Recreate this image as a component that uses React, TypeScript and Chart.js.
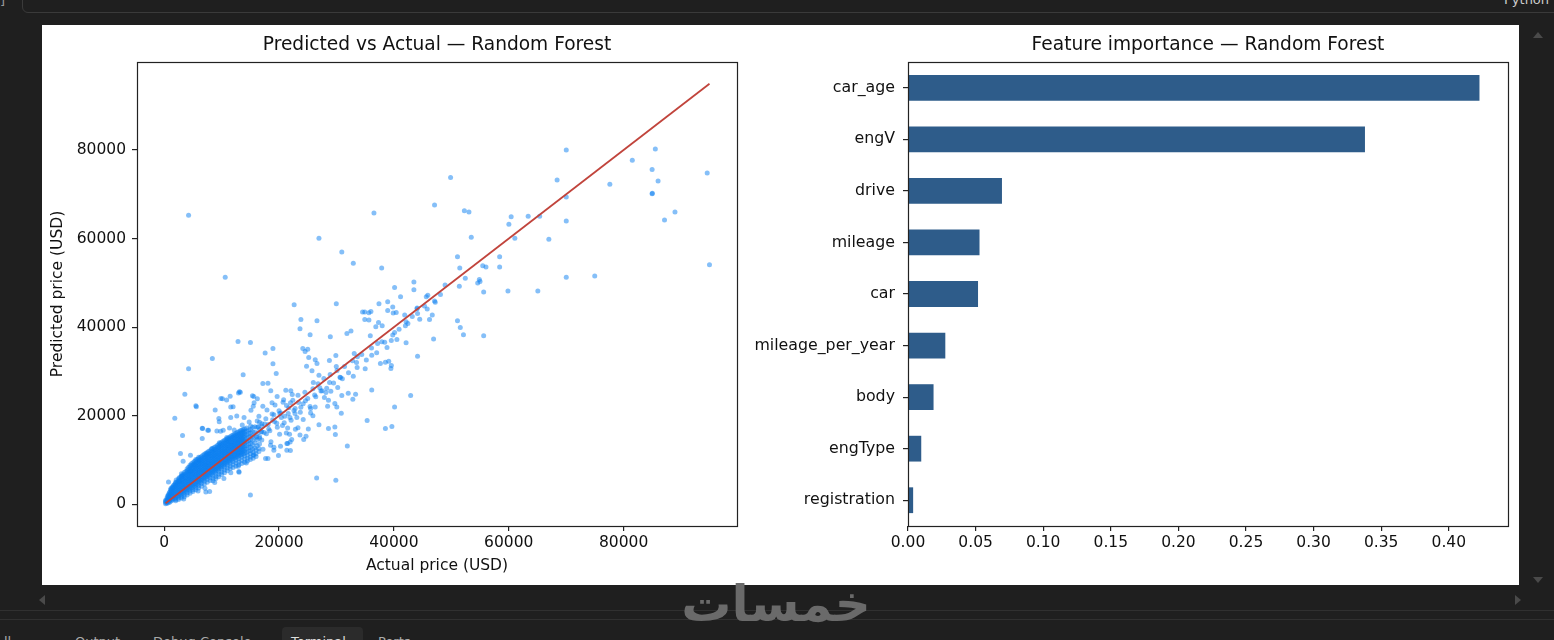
import React, { useEffect, useRef } from 'react';
import Chart from 'chart.js/auto';

const FONT = '"DejaVu Sans", Verdana, sans-serif';
const TEXT = '#111111';
const FRAME = '#222222';

// ---- Predicted vs Actual (Random Forest) ----
// outliers and the looser part of the cloud, [actual, predicted] in USD
const sparsePoints: [number, number][] = [
  [4250, 65240], [10630, 51230], [26950, 60050], [30930, 56950], [32930, 54400], [36530, 65770], [37870, 53340],
  [22630, 45040], [29970, 45270], [40120, 48970], [43480, 50170], [43480, 48430], [41160, 46850], [38920, 45720],
  [37400, 45270], [39800, 44520], [38920, 43770], [39880, 43170], [34540, 43390], [35650, 43240], [44040, 44300],
  [45320, 44750], [45640, 46850], [45900, 47200], [47080, 45880], [48110, 47390], [48910, 49490], [47080, 67570],
  [49870, 73750], [51070, 55900], [51470, 53340], [51390, 49200], [52430, 51010], [52270, 66290], [53070, 65990],
  [53470, 60270], [55470, 53860], [56030, 53560], [54880, 50740], [54590, 49950], [55000, 50300], [55630, 47910],
  [58410, 55900], [58410, 53560], [59860, 48140], [60020, 63210], [60420, 64940], [61060, 60050], [63380, 65010],
  [65380, 65010], [65060, 48140], [66980, 59820], [68420, 73220], [70010, 80000], [70010, 69380], [70010, 63960],
  [70010, 51230], [74970, 51530], [77600, 72230], [81510, 77670], [84960, 75560], [84960, 70130], [85000, 70200],
  [85520, 80230], [86000, 73000], [87120, 64180], [88940, 65990], [94550, 74810], [94950, 54090],
  [23810, 41740], [26610, 41430], [23650, 39620], [25410, 38260], [28930, 37810], [31820, 38580], [32530, 39100],
  [34930, 41740], [35650, 41580], [34930, 43390], [36000, 43500], [37320, 41060], [36850, 40070], [37960, 40300],
  [35890, 38040], [37160, 36320], [38400, 36610], [39550, 37000], [40520, 37220], [40120, 38800], [42120, 41200],
  [42440, 40840], [41880, 42710], [40400, 43300], [42120, 36450], [44040, 44140], [44120, 43100], [46200, 41740],
  [46680, 42710], [46910, 37290], [44120, 33450], [51070, 41430], [51560, 39930], [52110, 38260], [55630, 38040],
  [42920, 24560], [40120, 21990], [39650, 17560], [38520, 17100], [35340, 18920], [36140, 25830], [38520, 32090],
  [39100, 32320], [39560, 31340], [39480, 30670], [37650, 31800], [36140, 33670], [35000, 30580], [33490, 32020],
  [33090, 34050], [33650, 33290], [32930, 28930], [33330, 24860], [32850, 23730], [32050, 25090], [30840, 20570],
  [30060, 21990], [29720, 17470], [29810, 15750], [28610, 17100], [31890, 13180], [26950, 17930], [26550, 5950],
  [29890, 5420], [15020, 2100], [21980, 12130], [19900, 11010], [18070, 10330], [22850, 16950], [23300, 17300],
  [24210, 19140], [25500, 20630], [25900, 20000], [26300, 21990], [28460, 22150], [28610, 23500], [29720, 22760],
  [27500, 25610], [28160, 25240], [29020, 25540], [30220, 26370], [30930, 24560], [30610, 28700], [31020, 28320],
  [29970, 31120], [28770, 32480], [29890, 33610], [24540, 34510], [25170, 33150], [24790, 31190], [24140, 35190],
  [25000, 35000], [26300, 32610], [26610, 31800], [25740, 30130], [26950, 29150], [25970, 27500], [18940, 35190],
  [17580, 34130], [18940, 31710], [19510, 29540], [18070, 27350], [17180, 27280], [12860, 36770], [15020, 36540],
  [8390, 32930], [13750, 29220], [4250, 30580], [3600, 24860], [1850, 19440], [3200, 15530], [5520, 22220],
  [5600, 22000], [10150, 23800], [10880, 23570], [8880, 21310], [6630, 17180], [7590, 16720], [6630, 14850],
  [9830, 16500], [9520, 19370], [11590, 19590], [12640, 19960], [13910, 19590], [11590, 21990], [12000, 22000],
  [13260, 25310], [13100, 25400], [15600, 24330], [16220, 23800], [15510, 22150], [15110, 21240], [17180, 22150],
  [18560, 25610], [19670, 24330], [18780, 22900], [20700, 23050], [21180, 25760], [22050, 25610], [20140, 20500],
  [21900, 19590], [22780, 20500], [21830, 15820], [21270, 16110], [23650, 15660], [24700, 15370], [25100, 17020],
  [24300, 14620], [19110, 12880], [22210, 14620], [21500, 13720], [13040, 7230], [7920, 2870],
  [9880, 23880], [11490, 24400], [12940, 25150], [15370, 24480], [15660, 22900], [9590, 18610], [6690, 17100],
  [7730, 16720], [9180, 16570], [10280, 16720], [11380, 17250], [2840, 11450], [4580, 11070], [3300, 9720],
  [750, 5050], [6910, 7010], [13000, 7390], [17650, 10330], [21360, 12200], [21940, 14090], [21360, 13710],
  [18520, 13320], [19100, 12200], [20260, 13110], [7260, 2780],
];

// solid core of the cloud, thousands of USD: actual -> predicted values stacked there
const coreColumnsK: [number, number[]][] = [
  [0.25, [0.1, 0.4, 0.7, 0.9]],
  [0.5, [0.25, 0.55, 0.85, 1.15, 1.45]],
  [0.75, [0.35, 0.75, 1.15, 1.55, 1.95, 2.2]],
  [1.0, [0.5, 0.95, 1.4, 1.85, 2.3, 2.75]],
  [1.25, [0.8, 1.25, 1.7, 2.15, 2.6, 3.05, 3.35]],
  [1.5, [1.0, 1.5, 2.0, 2.5, 3.0, 3.5, 3.9]],
  [1.75, [1.3, 1.8, 2.3, 2.8, 3.3, 3.8, 4.4]],
  [2.0, [1.5, 2.0, 2.55, 3.1, 3.65, 4.2, 4.75, 5.0]],
  [2.25, [1.75, 2.3, 2.85, 3.4, 3.95, 4.5, 5.05]],
  [2.5, [1.9, 2.45, 3.0, 3.55, 4.1, 4.65, 5.2, 5.65]],
  [2.75, [2.15, 2.7, 3.25, 3.8, 4.35, 4.9, 5.45, 6.0]],
  [3.0, [2.3, 2.85, 3.4, 3.95, 4.5, 5.05, 5.6, 6.15, 6.4]],
  [3.25, [2.55, 3.1, 3.65, 4.2, 4.75, 5.3, 5.85, 6.4, 6.75]],
  [3.5, [2.75, 3.3, 3.85, 4.4, 4.95, 5.5, 6.05, 6.6, 7.15]],
  [3.75, [3.0, 3.55, 4.1, 4.65, 5.2, 5.75, 6.3, 6.85, 7.4]],
  [4.0, [3.2, 3.75, 4.3, 4.85, 5.4, 5.95, 6.5, 7.05, 7.6, 8.0]],
  [4.25, [3.4, 3.95, 4.5, 5.05, 5.6, 6.15, 6.7, 7.25, 7.8, 8.35]],
  [4.5, [3.55, 4.1, 4.65, 5.2, 5.75, 6.3, 6.85, 7.4, 7.95, 8.5, 8.8]],
  [4.75, [3.75, 4.3, 4.85, 5.4, 5.95, 6.5, 7.05, 7.6, 8.15, 8.7, 9.15]],
  [5.0, [3.9, 4.45, 5.0, 5.55, 6.1, 6.65, 7.2, 7.75, 8.3, 8.85, 9.4]],
  [5.25, [4.15, 4.7, 5.25, 5.8, 6.35, 6.9, 7.45, 8.0, 8.55, 9.1, 9.65]],
  [5.5, [4.35, 4.9, 5.45, 6.0, 6.55, 7.1, 7.65, 8.2, 8.75, 9.3, 9.85, 10.1]],
  [5.75, [4.6, 5.15, 5.7, 6.25, 6.8, 7.35, 7.9, 8.45, 9.0, 9.55, 10.1]],
  [6.0, [4.8, 5.35, 5.9, 6.45, 7.0, 7.55, 8.1, 8.65, 9.2, 9.75, 10.3, 10.6]],
  [6.25, [5.05, 5.6, 6.15, 6.7, 7.25, 7.8, 8.35, 8.9, 9.45, 10.0, 10.55]],
  [6.5, [5.3, 5.85, 6.4, 6.95, 7.5, 8.05, 8.6, 9.15, 9.7, 10.25, 10.8]],
  [6.75, [5.55, 6.1, 6.65, 7.2, 7.75, 8.3, 8.85, 9.4, 9.95, 10.5, 11.05]],
  [7.0, [5.8, 6.35, 6.9, 7.45, 8.0, 8.55, 9.1, 9.65, 10.2, 10.75, 11.3]],
  [7.25, [6.05, 6.6, 7.15, 7.7, 8.25, 8.8, 9.35, 9.9, 10.45, 11.0, 11.55]],
  [7.5, [6.2, 6.75, 7.3, 7.85, 8.4, 8.95, 9.5, 10.05, 10.6, 11.15, 11.7]],
  [7.75, [6.45, 7.0, 7.55, 8.1, 8.65, 9.2, 9.75, 10.3, 10.85, 11.4, 11.95]],
  [8.0, [6.6, 7.15, 7.7, 8.25, 8.8, 9.35, 9.9, 10.45, 11.0, 11.55, 12.1]],
  [8.25, [6.9, 7.45, 8.0, 8.55, 9.1, 9.65, 10.2, 10.75, 11.3, 11.85, 12.4]],
  [8.5, [7.1, 7.65, 8.2, 8.75, 9.3, 9.85, 10.4, 10.95, 11.5, 12.05, 12.6]],
  [8.75, [7.35, 7.9, 8.45, 9.0, 9.55, 10.1, 10.65, 11.2, 11.75, 12.3, 12.85]],
  [9.0, [7.5, 8.05, 8.6, 9.15, 9.7, 10.25, 10.8, 11.35, 11.9, 12.45, 13.0]],
  [9.25, [7.8, 8.35, 8.9, 9.45, 10.0, 10.55, 11.1, 11.65, 12.2, 12.75, 13.3]],
  [9.5, [8.0, 8.55, 9.1, 9.65, 10.2, 10.75, 11.3, 11.85, 12.4, 12.95, 13.5]],
  [9.75, [8.3, 8.85, 9.4, 9.95, 10.5, 11.05, 11.6, 12.15, 12.7, 13.25, 13.8]],
  [10.0, [8.5, 9.05, 9.6, 10.15, 10.7, 11.25, 11.8, 12.35, 12.9, 13.45, 14.0]],
  [10.25, [8.75, 9.3, 9.85, 10.4, 10.95, 11.5, 12.05, 12.6, 13.15, 13.7, 14.25]],
  [10.5, [8.95, 9.5, 10.05, 10.6, 11.15, 11.7, 12.25, 12.8, 13.35, 13.9, 14.45]],
  [10.75, [9.2, 9.75, 10.3, 10.85, 11.4, 11.95, 12.5, 13.05, 13.6, 14.15, 14.65]],
  [11.0, [9.4, 9.95, 10.5, 11.05, 11.6, 12.15, 12.7, 13.25, 13.8, 14.35, 14.85]],
  [11.25, [9.65, 10.2, 10.75, 11.3, 11.85, 12.4, 12.95, 13.5, 14.05, 14.6, 15.05]],
  [11.5, [9.8, 10.35, 10.9, 11.45, 12.0, 12.55, 13.1, 13.65, 14.2, 14.75, 15.25]],
  [11.75, [10.05, 10.6, 11.15, 11.7, 12.25, 12.8, 13.35, 13.9, 14.45, 15.0, 15.45]],
  [12.0, [10.2, 10.75, 11.3, 11.85, 12.4, 12.95, 13.5, 14.05, 14.6, 15.15, 15.65]],
  [12.25, [10.45, 11.0, 11.55, 12.1, 12.65, 13.2, 13.75, 14.3, 14.85, 15.4, 15.85]],
  [12.5, [10.55, 11.1, 11.65, 12.2, 12.75, 13.3, 13.85, 14.4, 14.95, 15.5, 16.05]],
  [12.75, [10.75, 11.3, 11.85, 12.4, 12.95, 13.5, 14.05, 14.6, 15.15, 15.7, 16.25]],
  [13.0, [10.9, 11.45, 12.0, 12.55, 13.1, 13.65, 14.2, 14.75, 15.3, 15.85, 16.4]],
  [13.25, [11.1, 11.65, 12.2, 12.75, 13.3, 13.85, 14.4, 14.95, 15.5, 16.05, 16.6]],
  [13.5, [11.2, 11.75, 12.3, 12.85, 13.4, 13.95, 14.5, 15.05, 15.6, 16.15, 16.7]],
  [13.75, [11.4, 11.95, 12.5, 13.05, 13.6, 14.15, 14.7, 15.25, 15.8, 16.35, 16.9]],
  [14.0, [11.5, 12.05, 12.6, 13.15, 13.7, 14.25, 14.8, 15.35, 15.9, 16.45, 17.0]],
  [14.35, [11.7, 12.5, 13.3, 14.1, 14.9, 15.7, 16.5, 17.2]],
  [14.7, [12.0, 12.8, 13.6, 14.4, 15.2, 16.0, 16.8]],
  [15.05, [12.1, 12.9, 13.7, 14.5, 15.3, 16.1, 16.9, 17.7]],
  [15.4, [12.4, 13.4, 14.4, 15.4, 16.4, 17.4]],
  [15.8, [12.7, 13.9, 15.1, 16.3, 17.5]],
  [16.2, [13.2, 14.6, 16.0, 17.4, 18.8]],
  [16.6, [13.6, 15.3, 16.9, 18.5]],
  [17.0, [14.5, 16.4, 18.2]],
];

// part of the core that sits under the diagonal, thousands of USD
const coreLowerColumnsK: [number, number[]][] = [
  [2.0, [1.1, 0.8]], [2.5, [1.4, 1.1]], [3.0, [1.8, 1.4]], [3.5, [2.2, 1.7]], [4.0, [2.6, 2.1]],
  [4.5, [3.0, 2.5]], [5.0, [3.3, 2.9]], [5.5, [3.8, 3.3]], [6.0, [4.2, 3.7]], [6.5, [4.7, 4.1]],
  [7.0, [5.2, 4.6]], [7.5, [5.6, 5.0]], [8.0, [6.0, 5.4]], [8.5, [6.5, 5.9, 5.3]], [9.0, [6.9, 6.3, 5.8]],
  [9.5, [7.4, 6.8, 6.2]], [10.0, [7.9, 7.3, 6.7]], [10.5, [8.35, 7.75, 7.1]], [11.0, [8.8, 8.2, 7.6]],
  [11.5, [9.2, 8.6, 8.0]], [12.0, [9.6, 9.0, 8.3]], [12.5, [9.95, 9.3, 8.6]], [13.0, [10.3, 9.6, 8.9]],
  [13.5, [10.6, 9.9, 9.2]], [14.0, [10.9, 10.2, 9.5]], [14.5, [11.1, 10.4, 9.8]], [15.0, [11.4, 10.7, 10.1]],
  [15.5, [11.7, 11.0, 10.4]], [16.0, [12.2, 11.4, 10.8]], [16.5, [12.6, 11.9]],
];

// fuzzy edge of the core and the thinner tail up the diagonal, [actual, predicted] in thousands of USD
const haloPointsK: [number, number][] = [
  [0.6, 1.9], [0.9, 2.6], [1.1, 3.3], [1.4, 3.8], [1.6, 4.2], [2.1, 5.5], [2.6, 6.0], [3.0, 6.9],
  [1.2, 3.6], [1.9, 4.4], [2.6, 5.2], [3.1, 6.4], [3.4, 1.2], [4.6, 7.5], [5.3, 8.9], [5.9, 3.0], [6.2, 9.8],
  [7.1, 3.6], [7.4, 11.4], [8.3, 12.6], [8.8, 4.9], [9.6, 13.9], [10.4, 5.8], [10.9, 15.1], [11.6, 7.1],
  [12.2, 16.8], [12.9, 8.6], [13.6, 17.9], [14.3, 9.3], [14.8, 18.6], [15.6, 11.2], [16.5, 19.9], [17.2, 12.4],
  [17.9, 21.3], [18.6, 14.1], [19.3, 22.4], [20.1, 15.8], [20.8, 23.6], [21.5, 17.2], [22.3, 24.8], [23.1, 19.6],
  [23.8, 21.9], [24.6, 23.4], [25.4, 22.1], [26.2, 24.7], [27.1, 26.3], [27.9, 24.1], [28.8, 27.5], [16.1, 15.2],
  [16.9, 16.4], [17.5, 18.1], [18.2, 17.0], [18.9, 19.1], [19.6, 18.3], [20.3, 20.6], [21.0, 19.9], [21.7, 21.8],
  [22.6, 21.2], [23.4, 23.0], [16.4, 17.5], [17.8, 15.9], [19.1, 20.2], [20.6, 17.8], [22.0, 22.9],
  [16.6, 14.9], [17.0, 17.6], [17.4, 16.2], [17.7, 19.3], [18.1, 18.0], [18.4, 16.6], [18.8, 20.4], [19.2, 18.7],
  [19.7, 17.4], [20.0, 21.1], [20.4, 19.6], [20.9, 18.4], [21.3, 22.3], [21.6, 20.5], [22.1, 19.0], [22.4, 23.5],
  [22.8, 21.6], [23.3, 24.6], [23.7, 20.8], [24.2, 22.7], [24.5, 25.3], [25.0, 23.9], [25.5, 21.6], [25.9, 26.1],
  [26.4, 24.3], [26.8, 27.2], [27.3, 25.6], [27.8, 28.4], [28.3, 26.2], [28.9, 29.3], [29.5, 27.4], [30.1, 30.2],
  [30.7, 28.6], [31.4, 31.1], [32.1, 29.7], [32.8, 32.4], [33.6, 30.9], [34.4, 33.8], [35.2, 32.6], [36.1, 35.3],
  [37.0, 34.2], [37.9, 36.7], [38.8, 35.4], [39.8, 38.2], [40.9, 39.5], [42.0, 40.3], [43.2, 42.4], [44.5, 41.8],
  [45.8, 44.1], [47.2, 45.6],
];

const priceTicks = [0, 20000, 40000, 60000, 80000];

// ---- Feature importance (Random Forest) ----
const features = ['car_age', 'engV', 'drive', 'mileage', 'car', 'mileage_per_year', 'body', 'engType', 'registration'];
const importance = [0.4227, 0.338, 0.0695, 0.0529, 0.0518, 0.0276, 0.0189, 0.0098, 0.0038];
const importanceTicks = [0, 0.05, 0.1, 0.15, 0.2, 0.25, 0.3, 0.35, 0.4];

const fromColumnsK = (cols: [number, number[]][]) =>
  cols.flatMap(([actual, preds]) => preds.map((p) => ({ x: actual * 1000, y: p * 1000 })));

const scatterPoints = [
  ...fromColumnsK(coreColumnsK),
  ...fromColumnsK(coreLowerColumnsK),
  ...haloPointsK.map(([x, y]) => ({ x: x * 1000, y: y * 1000 })),
  ...sparsePoints.map(([x, y]) => ({ x, y })),
];
const actualValues = scatterPoints.map((p) => p.x);
const lo = Math.min(...actualValues);
const hi = Math.max(...actualValues);

const tickFont = { family: FONT, size: 15.5 };
const titleFont = { family: FONT, size: 18.6 };

// matplotlib-like box around the axes + title centred on the axes
const frameAndTitle = {
  id: 'frameAndTitle',
  afterDraw(chart: any, _args: any, opts: any) {
    const { ctx, chartArea } = chart;
    const { left, top, right, bottom } = chartArea;
    ctx.save();
    ctx.strokeStyle = FRAME;
    ctx.lineWidth = 1.2;
    ctx.strokeRect(Math.round(left) + 0.5, Math.round(top) + 0.5, Math.round(right - left), Math.round(bottom - top));
    ctx.fillStyle = TEXT;
    ctx.font = `${titleFont.size}px ${FONT}`;
    ctx.textAlign = 'center';
    ctx.textBaseline = 'middle';
    ctx.fillText(opts.text, (left + right) / 2, top - 17);
    ctx.restore();
  },
};

const tickGrid = { drawOnChartArea: false, drawTicks: true, tickLength: 5, color: FRAME, lineWidth: 1.2 };

function ScatterPanel() {
  const ref = useRef<HTMLCanvasElement>(null);
  useEffect(() => {
    if (!ref.current) return;
    const chart = new Chart(ref.current, {
      type: 'scatter',
      data: {
        datasets: [
          {
            type: 'line',
            data: [{ x: lo, y: lo }, { x: hi, y: hi }],
            borderColor: '#c1443c',
            borderWidth: 1.8,
            pointRadius: 0,
            order: 0,
          } as any,
          {
            data: scatterPoints,
            pointRadius: 2.5,
            pointBorderWidth: 0,
            backgroundColor: 'rgba(12, 128, 242, 0.5)',
            order: 1,
          },
        ],
      },
      options: {
        animation: false,
        responsive: false,
        events: [],
        layout: { padding: { top: 37, right: 35, left: 0, bottom: 0 } },
        plugins: {
          legend: { display: false },
          tooltip: { enabled: false },
          frameAndTitle: { text: 'Predicted vs Actual — Random Forest' },
        } as any,
        scales: {
          x: {
            type: 'linear',
            min: -4730,
            max: 99740,
            afterBuildTicks: (s: any) => { s.ticks = priceTicks.map((value) => ({ value })); },
            afterFit: (s: any) => { s.height = 59; },
            ticks: { font: tickFont, color: TEXT, padding: 3, maxRotation: 0, autoSkip: false, callback: (v: any) => String(v) },
            grid: tickGrid,
            border: { display: false },
            title: { display: true, text: 'Actual price (USD)', font: tickFont, color: TEXT, padding: { top: 0, bottom: 10 } },
          },
          y: {
            type: 'linear',
            min: -4900,
            max: 99850,
            afterBuildTicks: (s: any) => { s.ticks = priceTicks.map((value) => ({ value })); },
            afterFit: (s: any) => { s.width = 95; },
            ticks: { font: tickFont, color: TEXT, padding: 6, autoSkip: false, callback: (v: any) => String(v) },
            grid: tickGrid,
            border: { display: false },
            title: { display: true, text: 'Predicted price (USD)', font: tickFont, color: TEXT, padding: { top: 7, bottom: 0 } },
          },
        },
      },
      plugins: [frameAndTitle],
    });
    return () => chart.destroy();
  }, []);
  return <canvas ref={ref} width={730} height={560} style={{ position: 'absolute', left: 42, top: 25 }} />;
}

function ImportancePanel() {
  const ref = useRef<HTMLCanvasElement>(null);
  useEffect(() => {
    if (!ref.current) return;
    const chart = new Chart(ref.current, {
      type: 'bar',
      data: {
        labels: features,
        datasets: [
          {
            data: importance,
            backgroundColor: '#2e5c8a',
            borderWidth: 0,
            barPercentage: 0.5,
            categoryPercentage: 1,
          },
        ],
      },
      options: {
        indexAxis: 'y',
        animation: false,
        responsive: false,
        events: [],
        layout: { padding: { top: 37, right: 11, left: 0, bottom: 0 } },
        plugins: {
          legend: { display: false },
          tooltip: { enabled: false },
          frameAndTitle: { text: 'Feature importance — Random Forest' },
        } as any,
        scales: {
          x: {
            type: 'linear',
            min: 0,
            max: 0.4438,
            afterBuildTicks: (s: any) => { s.ticks = importanceTicks.map((value) => ({ value })); },
            afterFit: (s: any) => { s.height = 59; },
            ticks: { font: tickFont, color: TEXT, padding: 3, maxRotation: 0, autoSkip: false, callback: (v: any) => Number(v).toFixed(2) },
            grid: tickGrid,
            border: { display: false },
          },
          y: {
            afterFit: (s: any) => { s.width = 163; },
            ticks: { font: { ...tickFont, size: 15.8 }, color: TEXT, padding: 8, autoSkip: false },
            grid: { ...tickGrid, offset: false },
            border: { display: false },
          },
        },
      },
      plugins: [frameAndTitle],
    });
    return () => chart.destroy();
  }, []);
  return <canvas ref={ref} width={774} height={560} style={{ position: 'absolute', left: 745, top: 25 }} />;
}

const arrow = (style: React.CSSProperties) => <div style={{ position: 'absolute', width: 0, height: 0, ...style }} />;

export default function App() {
  return (
    <div style={{ position: 'fixed', inset: 0, background: '#1f1f1f', overflow: 'hidden', fontFamily: FONT }}>
      {/* editor chrome */}
      <div style={{ position: 'absolute', left: 22, top: -12, width: 1560, height: 23, border: '1px solid #3a3a3a', borderRadius: 6 }} />
      <div style={{ position: 'absolute', left: 1504, top: -8, color: '#cccccc', fontSize: 13 }}>Python</div>
      <div style={{ position: 'absolute', left: 0, top: -7, color: '#999999', fontSize: 13 }}>]</div>
      <div style={{ position: 'absolute', left: 42, top: 25, width: 1477, height: 560, background: '#ffffff' }} />
      <ScatterPanel />
      <ImportancePanel />
      {arrow({ left: 1533, top: 32, borderLeft: '5px solid transparent', borderRight: '5px solid transparent', borderBottom: '6px solid #4a4a4a' })}
      {arrow({ left: 1533, top: 577, borderLeft: '5px solid transparent', borderRight: '5px solid transparent', borderTop: '6px solid #4a4a4a' })}
      {arrow({ left: 39, top: 595, borderTop: '5px solid transparent', borderBottom: '5px solid transparent', borderRight: '6px solid #4a4a4a' })}
      {arrow({ left: 1515, top: 595, borderTop: '5px solid transparent', borderBottom: '5px solid transparent', borderLeft: '6px solid #4a4a4a' })}
      <div style={{ position: 'absolute', left: 0, top: 610, width: 1554, height: 1, background: '#303030' }} />
      <div style={{ position: 'absolute', left: 0, top: 619, width: 1554, height: 1, background: '#303030' }} />
      <div style={{ position: 'absolute', left: 282, top: 627, width: 81, height: 20, background: '#2b2b2b', borderRadius: 4 }} />
      <div style={{ position: 'absolute', left: 0, top: 634, color: '#aaaaaa', fontSize: 13, whiteSpace: 'nowrap' }}>
        <span style={{ position: 'absolute', left: 4 }}>ll</span>
        <span style={{ position: 'absolute', left: 75 }}>Output</span>
        <span style={{ position: 'absolute', left: 153 }}>Debug Console</span>
        <span style={{ position: 'absolute', left: 291, color: '#dddddd' }}>Terminal</span>
        <span style={{ position: 'absolute', left: 378 }}>Ports</span>
      </div>
      <div style={{ position: 'absolute', left: 676, top: 574, width: 200, textAlign: 'center', color: '#6a6a6a', fontSize: 50, fontWeight: 'bold', lineHeight: '60px' }}>
        خمسات
      </div>
    </div>
  );
}
